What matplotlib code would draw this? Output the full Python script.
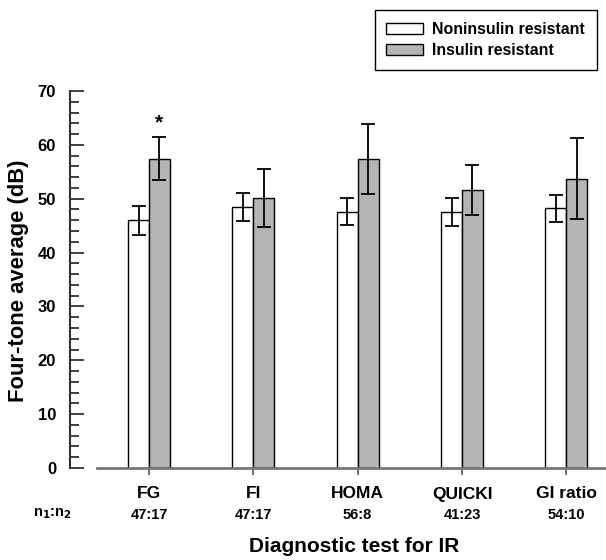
import matplotlib
matplotlib.use("Agg")
import matplotlib.pyplot as plt
from matplotlib.patches import Patch
from matplotlib.ticker import MultipleLocator
import matplotlib.transforms as mtransforms
import numpy as np

plt.rcParams['font.family'] = ['Liberation Sans', 'DejaVu Sans']
plt.rcParams['font.weight'] = 'bold'
plt.rcParams['axes.labelweight'] = 'bold'

categories = ['FG', 'FI', 'HOMA', 'QUICKI', 'GI ratio']
ratios = ['47:17', '47:17', '56:8', '41:23', '54:10']
non_ir = [46.0, 48.5, 47.6, 47.6, 48.2]
non_ir_err = [2.7, 2.6, 2.5, 2.6, 2.5]
ir = [57.4, 50.2, 57.4, 51.6, 53.7]
ir_err = [4.0, 5.4, 6.5, 4.7, 7.5]

fig = plt.figure(figsize=(6.06, 5.6), dpi=100)
W, H = 606, 560
ax = fig.add_axes([70 / W, 1 - 468 / H, (606 - 70) / W, (468 - 91) / H])

x = np.arange(len(categories))
w = 0.2
ax.bar(x - w / 2, non_ir, w, color='white', edgecolor='black', linewidth=1.0,
       yerr=non_ir_err, capsize=5, error_kw=dict(elinewidth=1.3, capthick=1.3, ecolor='black'))
ax.bar(x + w / 2, ir, w, color='#b4b4b4', edgecolor='black', linewidth=1.0,
       yerr=ir_err, capsize=5, error_kw=dict(elinewidth=1.3, capthick=1.3, ecolor='black'))

# significance marker
ax.text(x[0] + w / 2, ir[0] + ir_err[0] + 1.0, '*', ha='center', va='bottom', fontsize=15)

ax.set_xlim(-0.757, 4.38)
ax.set_ylim(0, 70)
ax.spines['top'].set_visible(False)
ax.spines['right'].set_visible(False)
ax.spines['left'].set_linewidth(1.5)
ax.spines['left'].set_color('#333333')
ax.spines['bottom'].set_bounds(-0.5, 4.38)
ax.spines['bottom'].set_color('#777777')
ax.spines['bottom'].set_linewidth(2)

ax.yaxis.set_major_locator(MultipleLocator(10))
ax.yaxis.set_minor_locator(MultipleLocator(2))
ax.tick_params(axis='y', which='major', direction='in', length=10, width=1.3,
               color='#333333', labelsize=12, pad=10)
ax.tick_params(axis='y', which='minor', direction='in', length=6.5, width=1.3, color='#333333')
ax.set_xticks(x)
ax.set_xticklabels([])
ax.tick_params(axis='x', direction='out', length=5, width=1.2, color='#555555')

trans = mtransforms.blended_transform_factory(ax.transData, fig.transFigure)
for xi, c, r in zip(x, categories, ratios):
    ax.text(xi, 1 - 494 / H, c, transform=trans, ha='center', va='center', fontsize=12.5)
    ax.text(xi, 1 - 515 / H, r, transform=trans, ha='center', va='center', fontsize=10.5)
fig.text(52 / W, 1 - 514 / H, r'n$_\mathbf{1}$:n$_\mathbf{2}$', ha='center', va='center', fontsize=10.5)

ax.set_ylabel('Four-tone average (dB)', fontsize=15.8)
ax.yaxis.set_label_coords((29 - 70) / 536, (468 - 281) / 377)
fig.text(354 / W, 1 - 546 / H, 'Diagnostic test for IR', ha='center', va='center', fontsize=15)

handles = [Patch(facecolor='white', edgecolor='black', label='Noninsulin resistant'),
           Patch(facecolor='#b4b4b4', edgecolor='black', label='Insulin resistant')]
leg = fig.legend(handles=handles, loc='upper right', bbox_to_anchor=(597 / W, 1 - 10 / H),
                 borderaxespad=0, fancybox=False, edgecolor='black', framealpha=1,
                 fontsize=11.4, handlelength=2.3, handleheight=0.7, borderpad=0.75,
                 labelspacing=0.4, handletextpad=0.6)
leg.get_frame().set_linewidth(1.0)

fig.savefig('out.png', dpi=100)
